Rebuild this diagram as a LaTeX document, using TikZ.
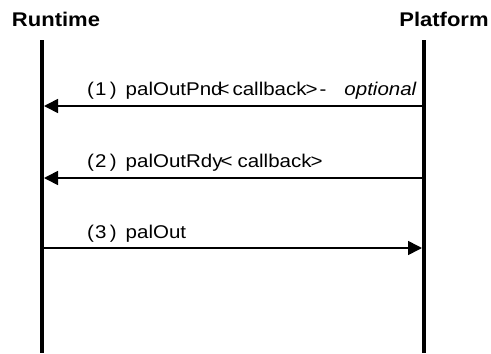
\documentclass[tikz,border=0pt]{standalone}
\usepackage{fontspec}
\setmainfont{Liberation Sans}
\usetikzlibrary{arrows.meta}
\newcommand\vsq[1]{\scalebox{1}[0.9]{#1}}
\begin{document}
\begin{tikzpicture}[x=1pt,y=-1pt,
  head/.style={font=\fontsize{22}{26}\selectfont\bfseries, inner sep=0pt, anchor=base},
  life/.style={line width=4pt},
  msg/.style={line width=1.6pt, -{Triangle[length=14pt,width=14pt]}},
  lbl/.style={font=\fontsize{20.5}{24}\selectfont, inner sep=0pt, anchor=base west}]
\useasboundingbox (0,0) rectangle (491,354);
\node[head] (rt) at (56,26.5) {\vsq{Runtime}};
\node[head] (pf) at (444,26.5) {\vsq{Platform}};
\coordinate (lt) at (42,40);
\coordinate (lb) at (42,353);
\coordinate (rtop) at (424,40);
\coordinate (rb) at (424,353);
\draw[life] (lt) -- (lb);
\draw[life] (rtop) -- (rb);
\coordinate (r1) at (422,106);
\coordinate (l1) at (44,106);
\coordinate (r2) at (422,178);
\coordinate (l2) at (44,178);
\coordinate (l3) at (44,248);
\coordinate (r3) at (422,248);
\draw[msg] (r1) -- (l1);
\draw[msg] (r2) -- (l2);
\draw[msg] (l3) -- (r3);
\node[lbl] (t1) at (87,95) {\vsq{(\kern1pt 1\kern3.5pt)\hspace{9pt}palOutPnd\kern-5pt<\kern3pt callback\kern-1pt>\kern2pt-\hspace{18pt}\textit{optional}}};
\node[lbl] (t2) at (87,167) {\vsq{(\kern1pt 2\kern3.5pt)\hspace{9pt}palOutRdy\kern-2pt<\hspace{5pt}callback\kern-1pt>}};
\node[lbl] (t3) at (87,238) {\vsq{(\kern1pt 3\kern3.5pt)\hspace{9pt}palOut}};
\end{tikzpicture}
\end{document}
